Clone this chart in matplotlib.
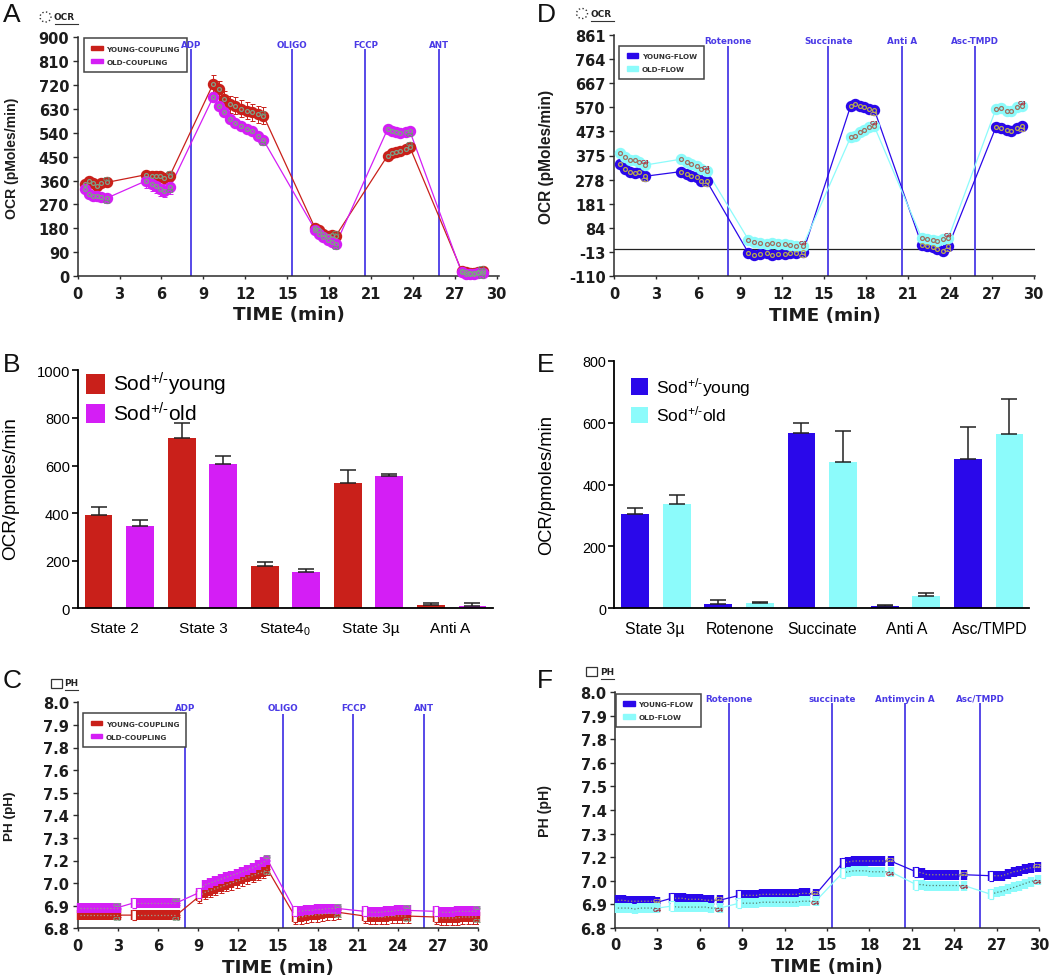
import matplotlib
matplotlib.use("Agg")
import matplotlib.pyplot as plt
from matplotlib.lines import Line2D
from matplotlib.patches import Patch, Ellipse, Rectangle

plt.rcParams["mathtext.default"] = "regular"
W, H = 1050, 978

# ---- data ----
YOUNG_COUPLING = "YOUNG-COUPLING"
OLD_COUPLING = "OLD-COUPLING"
YOUNG_FLOW = "YOUNG-FLOW"
OLD_FLOW = "OLD-FLOW"

TIME_TICKS = [0, 3, 6, 9, 12, 15, 18, 21, 24, 27, 30]

# A
A_TIME = [[0.5, 0.8, 1.1, 1.4, 1.7, 2.1], [4.9, 5.3, 5.6, 5.9, 6.2, 6.6],
          [9.7, 10.1, 10.5, 10.9, 11.3, 11.7, 12.1, 12.5, 12.9, 13.3],
          [17.0, 17.3, 17.6, 17.9, 18.2, 18.5], [22.2, 22.5, 22.8, 23.1, 23.5, 23.8],
          [27.5, 27.8, 28.1, 28.4, 28.7, 29.0]]
A_YOUNG = [[345, 358, 350, 340, 350, 353], [382, 378, 376, 378, 370, 378],
           [724, 705, 667, 648, 642, 630, 623, 617, 610, 605],
           [181, 175, 158, 152, 155, 152], [454, 462, 468, 472, 480, 485], [20, 16, 11, 11, 14, 20]]
A_OLD = [[328, 309, 303, 303, 297, 294], [359, 347, 340, 328, 322, 334],
         [674, 642, 617, 592, 577, 564, 554, 548, 529, 513],
         [175, 158, 146, 137, 127, 121], [554, 548, 542, 539, 544, 545], [14, 8, 8, 8, 11, 11]]
A_YOUNG_ERR = [12, 14, 32, 10, 8, 8]
A_OLD_ERR = [10, 26, 12, 14, 6, 6]
A_EVENT_T = [8.11, 15.35, 20.6, 25.87]
A_EVENTS = ["ADP", "OLIGO", "FCCP", "ANT"]
A_YTICKS = [0, 90, 180, 270, 360, 450, 540, 630, 720, 810, 900]

# D
D_TIME = [[0.4, 0.8, 1.1, 1.5, 1.8, 2.2], [4.8, 5.2, 5.5, 5.9, 6.2, 6.6],
          [9.6, 10.0, 10.4, 10.9, 11.3, 11.7, 12.2, 12.6, 13.0, 13.5],
          [16.9, 17.2, 17.6, 17.9, 18.2, 18.6], [22.0, 22.4, 22.8, 23.1, 23.5, 23.9],
          [27.3, 27.7, 28.1, 28.4, 28.8, 29.2]]
D_YOUNG = [[341, 321, 308, 305, 308, 292], [311, 301, 294, 288, 274, 274],
           [-16, -24, -20, -18, -24, -20, -21, -16, -16, -13],
           [573, 582, 576, 569, 562, 560], [16, 13, 6, 0, -7, 11], [489, 485, 478, 475, 485, 495]]
D_OLD = [[386, 368, 359, 359, 348, 337], [361, 351, 341, 335, 321, 315],
         [37, 27, 24, 20, 23, 20, 20, 16, 11, 13],
         [448, 455, 468, 479, 489, 493], [43, 40, 37, 33, 40, 43], [562, 565, 556, 556, 569, 576]]
D_YOUNG_ERR = [6, 6, 6, 6, 5, 6]
D_OLD_ERR = [6, 6, 6, 6, 6, 6]
D_EVENT_T = [8.1, 15.32, 20.59, 25.83]
D_EVENTS = ["Rotenone", "Succinate", "Anti A", "Asc-TMPD"]
D_YTICKS = [-110, -12.9, 84.2, 181.3, 278.4, 375.5, 472.6, 569.7, 666.8, 763.9, 861]
D_YLABELS = ["-110", "-13", "84", "181", "278", "375", "473", "570", "667", "764", "861"]

# C
C_TIME = [[0.2, 0.6, 1.0, 1.4, 1.8, 2.2, 2.6, 3.0],
          [4.2, 4.6, 5.0, 5.4, 5.8, 6.2, 6.6, 7.0, 7.4],
          [9.1, 9.5, 9.9, 10.3, 10.7, 11.1, 11.5, 11.9, 12.3, 12.7, 13.1, 13.5, 13.9, 14.2],
          [16.3, 16.7, 17.1, 17.5, 17.9, 18.3, 18.7, 19.1, 19.5],
          [21.5, 21.9, 22.3, 22.7, 23.1, 23.5, 23.9, 24.3, 24.7],
          [26.8, 27.2, 27.6, 28.0, 28.4, 28.8, 29.2, 29.6, 29.9]]
C_YOUNG = [[6.87, 6.87, 6.87, 6.87, 6.87, 6.87, 6.87, 6.87],
           [6.87, 6.87, 6.87, 6.87, 6.87, 6.87, 6.87, 6.87, 6.87],
           [6.97, 6.99, 7.0, 7.01, 7.02, 7.03, 7.04, 7.05, 7.06, 7.07, 7.08, 7.09, 7.1, 7.115],
           [6.86, 6.86, 6.865, 6.87, 6.87, 6.875, 6.88, 6.88, 6.885],
           [6.865, 6.86, 6.86, 6.86, 6.86, 6.865, 6.865, 6.865, 6.865],
           [6.86, 6.855, 6.855, 6.855, 6.855, 6.86, 6.86, 6.86, 6.86]]
C_OLD = [[6.91, 6.91, 6.91, 6.91, 6.91, 6.91, 6.91, 6.91],
         [6.935, 6.935, 6.935, 6.935, 6.935, 6.935, 6.935, 6.935, 6.935],
         [6.99, 7.03, 7.04, 7.05, 7.06, 7.07, 7.08, 7.09, 7.1, 7.11, 7.12, 7.135, 7.15, 7.165],
         [6.89, 6.89, 6.895, 6.895, 6.9, 6.9, 6.905, 6.905, 6.905],
         [6.89, 6.885, 6.885, 6.885, 6.89, 6.89, 6.895, 6.895, 6.895],
         [6.89, 6.885, 6.885, 6.885, 6.89, 6.89, 6.89, 6.89, 6.89]]
C_YOUNG_ERR = [0.008, 0.012, 0.034, 0.036, 0.036, 0.036]
C_OLD_ERR = [0.01, 0.01, 0.01, 0.01, 0.01, 0.01]
C_EVENT_T = [8.06, 15.37, 20.64, 25.93]

# F
F_TIME = [[0.2, 0.6, 1.0, 1.4, 1.8, 2.2, 2.6, 3.0],
          [4.0, 4.4, 4.8, 5.2, 5.6, 6.0, 6.4, 6.8, 7.4],
          [8.8, 9.2, 9.6, 10.0, 10.4, 10.8, 11.2, 11.6, 12.0, 12.4, 12.8, 13.2, 13.6, 14.2],
          [16.1, 16.5, 16.9, 17.3, 17.7, 18.1, 18.5, 18.9, 19.5],
          [21.3, 21.7, 22.1, 22.5, 22.9, 23.3, 23.7, 24.1, 24.7],
          [26.6, 27.0, 27.4, 27.8, 28.2, 28.6, 29.0, 29.4, 29.9]]
F_YOUNG = [[6.94, 6.94, 6.935, 6.935, 6.935, 6.935, 6.935, 6.93],
           [6.95, 6.95, 6.95, 6.945, 6.945, 6.945, 6.94, 6.94, 6.94],
           [6.965, 6.965, 6.965, 6.965, 6.97, 6.97, 6.97, 6.97, 6.97, 6.97, 6.97, 6.975, 6.975, 6.97],
           [7.13, 7.135, 7.14, 7.14, 7.14, 7.14, 7.14, 7.14, 7.14],
           [7.085, 7.08, 7.07, 7.07, 7.07, 7.07, 7.07, 7.07, 7.07],
           [7.065, 7.065, 7.065, 7.075, 7.085, 7.09, 7.1, 7.105, 7.11]]
F_OLD = [[6.9, 6.9, 6.9, 6.895, 6.9, 6.9, 6.9, 6.9],
         [6.91, 6.905, 6.905, 6.905, 6.905, 6.905, 6.905, 6.9, 6.9],
         [6.925, 6.925, 6.925, 6.925, 6.93, 6.93, 6.93, 6.93, 6.93, 6.93, 6.93, 6.935, 6.935, 6.935],
         [7.08, 7.085, 7.09, 7.09, 7.09, 7.085, 7.085, 7.085, 7.085],
         [7.02, 7.02, 7.015, 7.015, 7.015, 7.015, 7.015, 7.015, 7.015],
         [6.97, 6.98, 6.985, 6.995, 7.005, 7.015, 7.025, 7.035, 7.045]]
F_YOUNG_ERR = [0.004, 0.004, 0.004, 0.004, 0.004, 0.004]
F_OLD_ERR = [0.004, 0.004, 0.004, 0.004, 0.004, 0.004]
F_EVENT_T = [8.07, 15.35, 20.54, 25.83]
F_EVENTS = ["Rotenone", "succinate", "Antimycin A", "Asc/TMPD"]

PH_YTICKS = [6.8, 6.92, 7.04, 7.16, 7.28, 7.4, 7.52, 7.64, 7.76, 7.88, 8.0]
PH_YLABELS = ["6.8", "6.9", "7.0", "7.2", "7.3", "7.4", "7.5", "7.6", "7.8", "7.9", "8.0"]

# B
B_STATES = ["State 2", "State 3", "State4$_0$", "State 3µ", "Anti A"]
B_YOUNG = [392, 714, 176, 527, 12]
B_YOUNG_ERR = [32, 65, 20, 52, 10]
B_OLD = [344, 607, 151, 556, 9]
B_OLD_ERR = [27, 35, 16, 10, 15]

# E
E_STATES = ["State 3µ", "Rotenone", "Succinate", "Anti A", "Asc/TMPD"]
E_YOUNG = [306, 15, 566, 8, 482]
E_YOUNG_ERR = [19, 11, 35, 2, 103]
E_OLD = [336, 16, 472, 40, 563]
E_OLD_ERR = [31, 5, 103, 10, 115]

RED, MAGENTA = "#c9201a", "#d41ef5"
BLUE, CYAN = "#2a08ea", "#8cfbfb"
EVENT_BLUE = "#4a3ae6"
DARK = "#2b2b2b"


def axes_px(left, top, right, bottom):
    return fig.add_axes([left / W, 1 - bottom / H, (right - left) / W, (bottom - top) / H])


def fx(x):
    return x / W


def fy(y):
    return 1 - y / H


def tag_text(ax, t, v, tag, color, size, shift):
    ax.annotate(tag, (t, v), xytext=(0, shift), textcoords="offset points", fontsize=size,
                fontweight="bold", color=color, ha="center", va="center", zorder=7,
                annotation_clip=False)


def series_ocr(ax, time, values, errs, color, ring, tag, tag_color, shift):
    flat_t = [t for seg in time for t in seg]
    flat_v = [v for seg in values for v in seg]
    ax.plot(flat_t, flat_v, color=color, lw=0.9, zorder=3)
    for t, v, e in zip(time, values, errs):
        ax.errorbar(t, v, yerr=e, fmt="none", ecolor=color, elinewidth=0.7, capsize=1.8,
                    capthick=0.7, zorder=3, clip_on=False)
        ax.plot(t, v, ls="none", marker="o", ms=7.2, mfc=color, mec=color, zorder=4, clip_on=False)
        ax.plot(t, v, ls="none", marker="o", ms=2.8, mfc="none", mec=ring, mew=0.9, zorder=5, clip_on=False)
        tag_text(ax, t[-1], v[-1], tag, tag_color, 4.2, shift)


def series_ph(ax, time, values, errs, color, dots, tag, tag_color, shift):
    flat_t = [t for seg in time for t in seg]
    flat_v = [v for seg in values for v in seg]
    ax.plot(flat_t, flat_v, color=color, lw=0.9, zorder=3)
    box = [(-1, -3), (1, -3), (1, 3), (-1, 3)]
    for i, (t, v, e) in enumerate(zip(time, values, errs)):
        ax.errorbar(t, v, yerr=[[e] * len(t), [0] * len(t)], fmt="none", ecolor=color,
                    elinewidth=0.7, capsize=1.8, capthick=0.7, zorder=3)
        ax.plot(t, v, ls="none", marker="|", ms=7.2, mew=4.6, color=color, zorder=4, clip_on=False)
        ax.plot(t, v, ls=":", lw=0.9, color=dots, zorder=5)
        if i > 0:
            ax.plot(t[:1], v[:1], ls="none", marker=box, ms=7.8, mfc="white", mec=color, mew=0.8, zorder=6)
        tag_text(ax, t[-1], v[-1], tag, tag_color, 4.4, shift)


def finish_time_axes(ax, ylabel, ylabel_font, ylabel_xy, yticks, ylabels, events, event_t, event_top, label_y, xmax):
    ax.vlines(event_t, yticks[0], event_top, color=EVENT_BLUE, lw=1.3, zorder=2)
    for name, t in zip(events, event_t):
        ax.text(t, label_y, name, color=EVENT_BLUE, fontsize=6.3, fontweight="bold",
                ha="center", va="center", clip_on=False, zorder=9)
    ax.set_xlim(0, xmax)
    ax.set_ylim(yticks[0], yticks[-1])
    ax.set_xticks(TIME_TICKS)
    ax.set_yticks(yticks)
    ax.set_yticklabels(ylabels)
    ax.spines[["top", "right"]].set_visible(False)
    ax.spines[["left", "bottom"]].set_linewidth(1.1)
    ax.spines[["left", "bottom"]].set_color(DARK)
    ax.tick_params(axis="y", length=3.6, width=1, color=DARK, pad=2.5)
    ax.tick_params(axis="x", length=2.4, width=1, color=DARK, pad=4.5)
    for lab in ax.get_xticklabels() + ax.get_yticklabels():
        lab.set_fontsize(10.5)
        lab.set_fontweight("bold")
        lab.set_color("#1c1c1c")
    ax.set_xlabel("TIME (min)", fontsize=13.2, fontweight="bold", color="#1c1c1c", labelpad=3.5)
    ax.set_ylabel(ylabel, fontsize=ylabel_font, fontweight="bold", family="Liberation Sans",
                  color="#1c1c1c", va="center")
    ax.yaxis.set_label_coords(fx(ylabel_xy[0]), fy(ylabel_xy[1]), transform=fig.transFigure)


def box_legend(ax, colors, names, x, y):
    handles = [Patch(color=c, label=n) for c, n in zip(colors, names)]
    leg = ax.legend(handles=handles, loc="upper left", bbox_to_anchor=(fx(x), fy(y)),
                    bbox_transform=fig.transFigure, borderaxespad=0, fancybox=False, framealpha=1,
                    edgecolor="#444444", prop={"size": 5.2, "weight": "bold"}, labelcolor="#333333",
                    handlelength=1.6, handleheight=0.6, handletextpad=0.5, borderpad=1.0, labelspacing=1.0)
    leg.get_frame().set_linewidth(1.1)
    leg.set_zorder(8)


def bar_panel(ax, states, young, young_err, old, old_err, colors, ymax, yticks, label_pos, left, right,
              font, label_font, ylabel_font, ylabel_xy, legend_xy, legend_font, handle_w, handle_h, spacing):
    young_x = [0, 2, 4, 6, 8]
    old_x = [1, 3, 5, 7, 9]
    errkw = {"ecolor": "#222222", "elinewidth": 1.1, "capsize": 5.8, "capthick": 1.1}
    ax.bar(young_x, young, width=0.667, color=colors[0], yerr=[[0] * 5, young_err], error_kw=errkw,
           label="Sod$^{+/\u2010}$young")
    ax.bar(old_x, old, width=0.667, color=colors[1], yerr=[[0] * 5, old_err], error_kw=errkw,
           label="Sod$^{+/\u2010}$old")
    ax.set_xlim(left, right)
    ax.set_ylim(0, ymax)
    ax.set_yticks(yticks)
    ax.set_xticks(label_pos)
    ax.set_xticklabels(states, fontsize=label_font, family="Liberation Sans")
    ax.set_yticklabels(yticks, fontsize=font, family="Liberation Sans")
    ax.tick_params(axis="x", length=0, pad=9)
    ax.tick_params(axis="y", length=4, width=1.2, pad=2)
    ax.spines[["top", "right"]].set_visible(False)
    ax.spines[["left", "bottom"]].set_linewidth(1.3)
    ax.set_ylabel("OCR/pmoles/min", fontsize=ylabel_font, family="Liberation Sans", va="center")
    ax.yaxis.set_label_coords(fx(ylabel_xy[0]), fy(ylabel_xy[1]), transform=fig.transFigure)
    ax.legend(loc="upper left", bbox_to_anchor=(fx(legend_xy[0]), fy(legend_xy[1])),
              bbox_transform=fig.transFigure, borderaxespad=0, borderpad=0, frameon=False,
              prop={"family": "Liberation Sans", "size": legend_font}, handlelength=handle_w,
              handleheight=handle_h, handletextpad=0.42, labelspacing=spacing)


def ocr_key(x, y, text, round_key):
    if round_key:
        fig.add_artist(Ellipse((fx(x), fy(y)), 11 / W, 10 / H, fc="white", ec="#333333", lw=1,
                               ls=":", transform=fig.transFigure))
    else:
        fig.add_artist(Rectangle((fx(x - 5.5), fy(y + 4.5)), 11 / W, 9 / H, fc="white", ec="#333333",
                                 lw=0.9, transform=fig.transFigure))
    fig.text(fx(x + 8.5), fy(y), text, fontsize=6.4, fontweight="bold", color="#222222", va="center")
    fig.add_artist(Line2D([fx(x + 9), fx(x + 9 + 23 if round_key else x + 9 + 13)],
                          [fy(y + 7), fy(y + 7)], color="#333333", lw=0.8))


fig = plt.figure(figsize=(W / 100, H / 100), dpi=100, facecolor="w")

# A
ax_a = axes_px(77.7, 38.3, 499.3, 277)
series_ocr(ax_a, A_TIME, A_YOUNG, A_YOUNG_ERR, RED, "#7f9f86", "G1", "#6f8f76", 2.5)
series_ocr(ax_a, A_TIME, A_OLD, A_OLD_ERR, MAGENTA, "#7f9f86", "G3", "#6f8f76", -2.5)
finish_time_axes(ax_a, "OCR (pMoles/min)", 10.1, (12, 158), A_YTICKS, [str(v) for v in A_YTICKS],
                 A_EVENTS, A_EVENT_T, 856, 873, 30.2)
box_legend(ax_a, [RED, MAGENTA], [YOUNG_COUPLING, OLD_COUPLING], 84, 39.3)

# D
ax_d = axes_px(614.3, 35.7, 1035, 277.3)
ax_d.axhline(0, color="#222222", lw=0.9, zorder=2)
series_ocr(ax_d, D_TIME, D_YOUNG, D_YOUNG_ERR, BLUE, "#b8a850", "G3", "#c0b060", -2.5)
series_ocr(ax_d, D_TIME, D_OLD, D_OLD_ERR, CYAN, "#a07060", "G4", "#b03040", 2.5)
finish_time_axes(ax_d, "OCR (pMoles/min)", 11.2, (547, 157), D_YTICKS, D_YLABELS,
                 D_EVENTS, D_EVENT_T, 814, 836, 30.1)
box_legend(ax_d, [BLUE, CYAN], [YOUNG_FLOW, OLD_FLOW], 619.3, 46.7)

# C
ax_c = axes_px(77.7, 703.3, 478.3, 929.3)
series_ph(ax_c, C_TIME, C_YOUNG, C_YOUNG_ERR, RED, "#9aa090", "G1", "#7f9f86", -2.5)
series_ph(ax_c, C_TIME, C_OLD, C_OLD_ERR, MAGENTA, "#9a9a90", "G3", "#7f9f86", 2.5)
finish_time_axes(ax_c, "PH (pH)", 9.7, (10, 816), PH_YTICKS, PH_YLABELS,
                 A_EVENTS, C_EVENT_T, 7.94, 7.97, 30)
box_legend(ax_c, [RED, MAGENTA], [YOUNG_COUPLING, OLD_COUPLING], 83.3, 714.3)

# F
ax_f = axes_px(615, 693.3, 1039, 928.7)
series_ph(ax_f, F_TIME, F_YOUNG, F_YOUNG_ERR, BLUE, "#a09a60", "G2", "#c0b060", 1)
series_ph(ax_f, F_TIME, F_OLD, F_OLD_ERR, CYAN, "#5a8070", "G4", "#a03040", -1)
finish_time_axes(ax_f, "PH (pH)", 10.2, (545, 811), PH_YTICKS, PH_YLABELS,
                 F_EVENTS, F_EVENT_T, 7.945, 7.97, 30)
box_legend(ax_f, [BLUE, CYAN], [YOUNG_FLOW, OLD_FLOW], 616, 694.7)

# B
ax_b = axes_px(78.3, 371.3, 492.7, 609.3)
bar_panel(ax_b, B_STATES, B_YOUNG, B_YOUNG_ERR, B_OLD, B_OLD_ERR, [RED, MAGENTA], 1000,
          [0, 200, 400, 600, 800, 1000], [0.38, 2.52, 4.5, 6.55, 8.47], -0.49, 9.49,
          10.6, 11.1, 13.6, (11, 489), (86.5, 371), 15, 0.87, 1.09, 0.2)

# E
ax_e = axes_px(614.3, 362, 1029, 609.3)
bar_panel(ax_e, E_STATES, E_YOUNG, E_YOUNG_ERR, E_OLD, E_OLD_ERR, [BLUE, CYAN], 800,
          [0, 200, 400, 600, 800], [0.48, 2.52, 4.49, 6.53, 8.52], -0.5, 9.47,
          10.4, 11.4, 13.2, (547, 485), (631, 376), 12.5, 1.0, 1.1, 0.35)

# panel letters
for letter, x, y in [("A", 3, 22), ("B", 3, 372), ("C", 3, 688), ("D", 537, 22), ("E", 537, 372), ("F", 537, 688)]:
    fig.text(fx(x), fy(y), letter, fontsize=19, family="Liberation Sans", va="baseline", color="#111111")

ocr_key(45.5, 18, "OCR", True)
ocr_key(582, 14.5, "OCR", True)
ocr_key(56, 684, "PH", False)
ocr_key(591.5, 672.5, "PH", False)

fig.savefig("out.png", dpi=100, facecolor="w")
